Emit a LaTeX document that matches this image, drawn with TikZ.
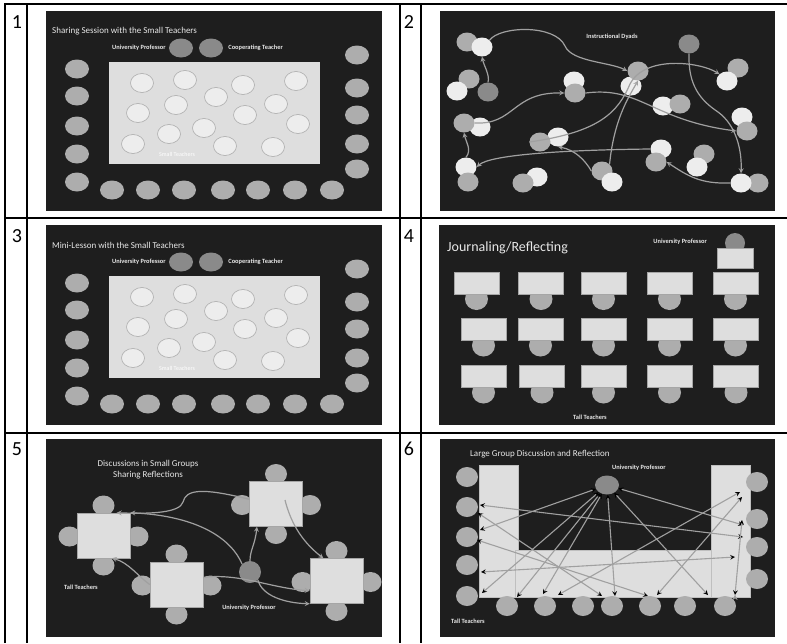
\documentclass[tikz,border=0pt]{standalone}
\usepackage{fontspec}
\setmainfont{Carlito}
\usetikzlibrary{shapes.geometric,arrows,positioning}
\definecolor{board}{HTML}{1E1E1E}
\definecolor{deskgray}{HTML}{DEDEDE}
\definecolor{seatgray}{HTML}{ADADAD}
\definecolor{profgray}{HTML}{8A8A8A}
\definecolor{kidwhite}{HTML}{EDEDED}
\definecolor{linkgray}{HTML}{A0A0A0}
\definecolor{inkwhite}{HTML}{E8E8E8}

\begin{document}
\begin{tikzpicture}[x=1pt,y=-1pt,>=stealth,
    seat/.style={ellipse,fill=seatgray,inner sep=0pt,minimum width=24pt,minimum height=19pt},
    prof/.style={seat,fill=profgray},
    kid/.style={seat,fill=kidwhite,draw=seatgray,line width=0.6pt,minimum width=23pt},
    pal/.style={seat,minimum width=21pt},
    palw/.style={pal,fill=kidwhite},
    desk/.style={rectangle,fill=deskgray,draw=gray!70,line width=0.5pt,inner sep=0pt},
    heading/.style={text=inkwhite,font=\fontsize{9}{10}\selectfont,inner sep=0pt},
    tag/.style={text=inkwhite,font=\fontsize{6.4}{7}\selectfont\bfseries,inner sep=0pt},
    num/.style={font=\fontsize{20}{22}\selectfont,inner sep=0pt},
    link/.style={draw=linkgray,line width=1.2pt,->},
    twoway/.style={draw=linkgray,line width=1.1pt,<->}]

    \useasboundingbox (0,0) rectangle (787,643);

    % table grid
    \draw[line width=1.4pt] (5,643) -- (5,4) -- (787,4);
    \draw[line width=1.4pt] (27,4) -- (27,643) (400,4) -- (400,643) (421,4) -- (421,643);
    \draw[line width=1.4pt] (5,218) -- (787,218) (5,433) -- (787,433);

    \node[num] (n1) at (17,22) {1};
    \node[num] (n2) at (409,22) {2};
    \node[num] (n3) at (17,236) {3};
    \node[num] (n4) at (409,236) {4};
    \node[num] (n5) at (17,449) {5};
    \node[num] (n6) at (409,449) {6};

    % dark slides
    \fill[board] (46,11) rectangle (382,211);
    \fill[board] (440,11) rectangle (775,211);
    \fill[board] (46,225) rectangle (382,425);
    \fill[board] (439,225) rectangle (775,425);
    \fill[board] (46,439) rectangle (382,637);
    \fill[board] (440,439) rectangle (775,637);

    % slides 1 and 3: small teachers on the rug
    \foreach \yy/\ttl in {0/Sharing Session with the Small Teachers, 214/Mini-Lesson with the Small Teachers}{
        \begin{scope}[shift={(0,\yy)}]
            \node[heading,anchor=west] (ttl\yy) at (52,31) {\ttl};
            \node[prof] (up\yy) at (181,48) {};
            \node[prof] (ct\yy) at (211,48) {};
            \node[tag,left=3pt of up\yy] {University Professor};
            \node[tag,right=5pt of ct\yy] {Cooperating Teacher};
            \node[desk,draw=none,minimum width=211pt,minimum height=102pt] (rug\yy) at (214.5,113) {};
            \foreach \kx/\ky [count=\k] in {142/83,185/80,243/85,296/81,216/97,138/113,176/105,276/104,245/115,298/124,133/144,169/134,204/128,225/146,273/147}
                \node[kid] (kid\yy-\k) at (\kx,\ky) {};
            \node[tag,font=\fontsize{6}{7}\selectfont,text=white] at (177,154) {Small Teachers};
            \foreach \sy [count=\k] in {69,96,126,154,182}
                \node[seat] (lft\yy-\k) at (77,\sy) {};
            \foreach \sx [count=\k] in {112,148,184,223,258,295,332}
                \node[seat] (btm\yy-\k) at (\sx,190) {};
            \foreach \sy [count=\k] in {55,88,115,144,169}
                \node[seat] (rgt\yy-\k) at (357,\sy) {};
        \end{scope}
    }

    % slide 2: instructional dyads
    \node[tag] (dyads) at (612,37) {Instructional Dyads};
    \node[pal] (a1) at (467,42) {};
    \node[palw] (a2) at (482,47) {};
    \node[pal] (b1) at (469,79) {};
    \node[palw] (b2) at (457,91) {};
    \node[prof,minimum width=21pt] (p1) at (488,92) {};
    \node[palw] (c1) at (574,81) {};
    \node[pal] (c2) at (575,93) {};
    \node[palw] (d2) at (631,86) {};
    \node[pal] (d1) at (638,71) {};
    \node[prof,minimum width=21pt] (p2) at (689,44) {};
    \node[pal] (e1) at (738,68) {};
    \node[palw] (e2) at (727,81) {};
    \node[palw] (f1) at (663,106) {};
    \node[pal] (f2) at (680,104) {};
    \node[palw] (g2) at (480,127) {};
    \node[pal] (g1) at (464,123) {};
    \node[palw] (h1) at (742,117) {};
    \node[pal] (h2) at (747,131) {};
    \node[palw] (i2) at (558,137) {};
    \node[pal] (i1) at (540,142) {};
    \node[palw] (j1) at (661,149) {};
    \node[pal] (j2) at (656,162) {};
    \node[pal] (k1) at (704,154) {};
    \node[palw] (k2) at (697,167) {};
    \node[palw] (l1) at (466,167) {};
    \node[pal] (l2) at (468,182) {};
    \node[palw] (m2) at (537,177) {};
    \node[pal] (m1) at (523,183) {};
    \node[pal] (n1b) at (602,171) {};
    \node[palw] (n2) at (612,182) {};
    \node[pal] (o2) at (758,183) {};
    \node[palw] (o1) at (741,183) {};

    \draw[link] (a2.north east) .. controls (500,26) and (555,24) .. (565,46) .. controls (572,62) and (610,62) .. (d1.west);
    \draw[link] (g1.east) .. controls (515,125) and (512,92) .. (c2.west);
    \draw[link] (c2.east) .. controls (640,86) and (652,120) .. (h2.west);
    \draw[link] (i1.west) .. controls (600,132) and (618,112) .. (630,84) .. controls (645,55) and (700,62) .. (e2.north west);
    \draw[link] (p2.south) .. controls (688,85) and (700,100) .. (718,112) .. controls (736,125) and (742,150) .. (o1.north);
    \draw[link] (n1b.north east) .. controls (614,120) and (628,98) .. (d1.south);
    \draw[link] (n1b.west) .. controls (585,160) and (575,150) .. (i2.south);
    \draw[link] (j1.west) .. controls (560,150) and (490,155) .. (l1.east);
    \draw[link] (l1.north) .. controls (472,150) and (466,142) .. (g1.south);
    \draw[link] (o1.west) .. controls (700,184) and (688,176) .. (j2.east);
    \draw[link] (p1.north) .. controls (490,75) and (484,66) .. (a2.south);

    % slide 4: journaling
    \node[heading,anchor=west,font=\fontsize{14}{16}\selectfont] (jour) at (447,248) {Journaling/Reflecting};
    \node[prof,minimum width=20pt,minimum height=20pt] (up4) at (735,243) {};
    \node[desk,minimum width=36pt,minimum height=20pt] (updesk) at (735,258) {};
    \node[tag,anchor=east] at (707,242) {University Professor};
    \foreach \dx/\dy [count=\d] in {476.5/283,541/283,603.5/283,669.5/283,735.5/283,
            483.5/329.5,540.5/329.5,603.5/329.5,669.5/329.5,735.5/329.5,
            483.5/376.5,542/376.5,603.5/376.5,669.5/376.5,736/376.5}{
        \node[seat,minimum width=23pt,minimum height=22pt] (chr\d) at (\dx,\dy+16) {};
        \node[desk,minimum width=45pt,minimum height=22pt] (dsk\d) at (\dx,\dy) {};
    }
    \node[tag] at (590,417) {Tall Teachers};

    % slide 5: small groups
    \node[heading] (grp1) at (148,464) {Discussions in Small Groups};
    \node[heading] (grp2) at (148,475) {Sharing Reflections};
    \foreach \tb/\tx/\ty in {A/103.5/535.5,B/276/504,C/176.5/584.5,D/336.5/581}{
        \node[seat,minimum width=22pt,minimum height=20pt] (top\tb) at (\tx,\ty-30) {};
        \node[seat,minimum width=22pt,minimum height=20pt] (bot\tb) at (\tx,\ty+30) {};
        \node[seat,minimum width=22pt,minimum height=20pt] (lef\tb) at (\tx-34,\ty+1) {};
        \node[seat,minimum width=22pt,minimum height=20pt] (rig\tb) at (\tx+34,\ty+1) {};
        \node[desk,minimum width=53pt,minimum height=45pt] (tbl\tb) at (\tx,\ty) {};
    }
    \node[prof,minimum width=22pt,minimum height=22pt] (up5) at (250,572) {};
    \node[tag] at (81,587) {Tall Teachers};
    \node[tag] at (249,608) {University Professor};

    \draw[link] (tblB.170) .. controls (200,487) and (186,490) .. (183,502) .. controls (180,513) and (150,514) .. (tblA.60);
    \draw[link] (up5.north west) .. controls (232,540) and (200,516) .. (tblA.north east);
    \draw[link] (up5.north) .. controls (250,550) and (255,545) .. (tblB.-130);
    \draw[link] ([shift={(9,-4)}]tblB.center) .. controls (290,520) and (300,540) .. (tblD.120);
    \draw[link] (tblC.west) .. controls (140,578) and (128,562) .. (tblA.-70);
    \draw[link] (tblC.15) .. controls (240,573) and (270,588) .. (tblD.-160);
    \draw[link] (up5.south east) .. controls (262,596) and (285,603) .. (tblD.south west);

    % slide 6: large group
    \node[heading,anchor=west] (large) at (470,454) {Large Group Discussion and Reflection};
    \node[tag,anchor=west] at (612,468) {University Professor};
    \node[desk,draw=gray!50,minimum width=39pt,minimum height=132pt] (lbar) at (498.5,531) {};
    \node[desk,draw=gray!50,minimum width=39pt,minimum height=132pt] (rbar) at (730.5,531) {};
    \node[desk,draw=gray!50,minimum width=196pt,minimum height=47pt] (bbar) at (613,573.5) {};
    \foreach \sy [count=\k] in {477,507,537,565,596}
        \node[seat,minimum width=22pt,minimum height=20pt] (sl\k) at (467,\sy) {};
    \foreach \sx [count=\k] in {507,545,583,612,650,685,725}
        \node[seat,minimum width=22pt,minimum height=20pt] (sb\k) at (\sx,606) {};
    \foreach \sy [count=\k] in {482,519,547,579}
        \node[seat,minimum width=22pt,minimum height=20pt] (sr\k) at (757,\sy) {};
    \node[prof] (prof6) at (607,485) {};
    \node[tag] at (468,621) {Tall Teachers};

    \coordinate (lb1) at (480,505);
    \coordinate (lb2) at (478,513);
    \coordinate (lb3) at (480,530);
    \coordinate (lb4) at (477,540);
    \coordinate (lb5) at (481,572);
    \coordinate (lb6) at (482,593);
    \coordinate (bb1) at (517,597);
    \coordinate (bb2) at (543,594);
    \coordinate (bb3) at (558,595);
    \coordinate (bb4) at (602,596);
    \coordinate (bb5) at (615,596);
    \coordinate (bb6) at (648,596);
    \coordinate (bb7) at (657,595);
    \coordinate (bb8) at (708,595);
    \coordinate (bb9) at (735,595);
    \coordinate (rb1) at (740,492);
    \coordinate (rb2) at (742,497);
    \coordinate (rb3) at (742,520);
    \coordinate (rb4) at (743,525);
    \coordinate (rb5) at (743,537);
    \coordinate (rb6) at (735,557);

    \path[twoway]
        (prof6) edge (lb3)
        (lb1) edge (rb5)
        (lb2) edge (bb4)
        (lb4) edge (bb6)
        (lb5) edge (rb6)
        (lb6) edge (prof6)
        (bb1) edge (prof6)
        (bb2) edge (prof6)
        (bb3) edge (rb1)
        (bb5) edge (prof6)
        (bb7) edge (rb2)
        (bb8) edge (prof6)
        (prof6) edge (rb4)
        (bb9) edge (rb3)
    ;
\end{tikzpicture}
\end{document}
